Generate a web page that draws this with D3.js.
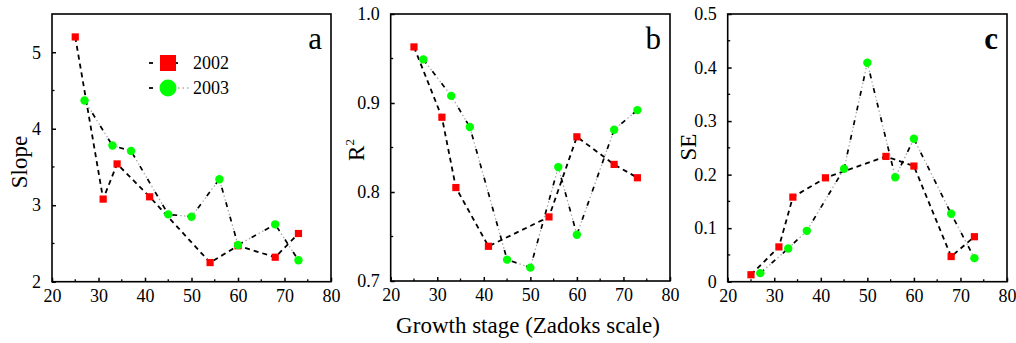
<!DOCTYPE html>
<html><head><meta charset="utf-8">
<script src="https://cdn.jsdelivr.net/npm/d3@7"></script>
<style>body{margin:0;background:#fff;} svg{display:block;} text{font-family:"Liberation Serif","Times New Roman",serif;fill:#000;}</style>
</head><body>
<script>
// Data
const x2002 = [25, 31, 34, 41, 54, 60, 68, 73];
const x2003 = [27, 33, 37, 45, 50, 56, 60, 68, 73];
const slope2002 = [5.20, 3.08, 3.54, 3.11, 2.25, 2.47, 2.32, 2.63];
const slope2003 = [4.37, 3.78, 3.71, 2.88, 2.85, 3.34, 2.48, 2.75, 2.28];
const r2_2002 = [0.963, 0.884, 0.805, 0.739, 0.772, 0.862, 0.831, 0.816];
const r2_2003 = [0.949, 0.908, 0.873, 0.724, 0.715, 0.828, 0.752, 0.870, 0.892];
const se2002 = [0.013, 0.065, 0.158, 0.194, 0.234, 0.216, 0.047, 0.084];
const se2003 = [0.016, 0.062, 0.095, 0.211, 0.409, 0.195, 0.267, 0.127, 0.044];
const xTicks = [20, 30, 40, 50, 60, 70, 80];
const slopeTicks = [2, 3, 4, 5];
const r2Ticks = [0.7, 0.8, 0.9, 1.0];
const seTicks = [0, 0.1, 0.2, 0.3, 0.4, 0.5];
const seriesNames = ["2002", "2003"];

const W = 1016, H = 343;
const svg = d3.select("body").append("svg").attr("width", W).attr("height", H);

const panels = [
  {left: 52, right: 331, top: 14, bottom: 281.7, y: [2, 5.5], ticks: slopeTicks, minor: 0.5, fmt: d => d3.format("d")(d),
   a: slope2002, b: slope2003, label: "a", bold: false, title: "Slope", tx: 27, ty: 162, legend: true},
  {left: 390.7, right: 670, top: 14, bottom: 281, y: [0.7, 1.0], ticks: r2Ticks, minor: 0.05, fmt: d => d3.format(".1f")(d),
   a: r2_2002, b: r2_2003, label: "b", bold: false, title: "R2", tx: 364, ty: 150, legend: false},
  {left: 727.7, right: 1007, top: 14, bottom: 281.7, y: [0, 0.5], ticks: seTicks, minor: 0.05, fmt: d => d === 0 ? "0" : d3.format(".1f")(d),
   a: se2002, b: se2003, label: "c", bold: true, title: "SE", tx: 696, ty: 147, legend: false}
];

panels.forEach(p => {
  const x = d3.scaleLinear().domain([20, 80]).range([p.left, p.right]);
  const y = d3.scaleLinear().domain(p.y).range([p.bottom, p.top]);
  const g = svg.append("g");

  // frame
  g.append("rect").attr("x", p.left).attr("y", p.top).attr("width", p.right - p.left).attr("height", p.bottom - p.top)
    .attr("fill", "none").attr("stroke", "#000").attr("stroke-width", 1.6);

  // x axis (inward ticks)
  const xa = g.append("g").attr("transform", `translate(0,${p.bottom})`)
    .call(d3.axisBottom(x).tickValues(xTicks).tickSizeInner(-4).tickSizeOuter(0).tickPadding(10).tickFormat(d3.format("d")));
  xa.select(".domain").remove();
  xa.selectAll("line").attr("stroke-width", 1.5);
  xa.selectAll("text").attr("font-size", 18).attr("font-family", "Liberation Serif").attr("dy", "0.55em");
  const xMinor = d3.range(25, 80, 10);
  g.selectAll(".xm").data(xMinor).enter().append("line")
    .attr("x1", d => x(d)).attr("x2", d => x(d)).attr("y1", p.bottom).attr("y2", p.bottom - 2.5)
    .attr("stroke", "#000").attr("stroke-width", 1.3);

  // y axis (inward ticks)
  const ya = g.append("g").attr("transform", `translate(${p.left},0)`)
    .call(d3.axisLeft(y).tickValues(p.ticks).tickSizeInner(-4).tickSizeOuter(0).tickPadding(11).tickFormat(p.fmt));
  ya.select(".domain").remove();
  ya.selectAll("line").attr("stroke-width", 1.5);
  ya.selectAll("text").attr("font-size", 18).attr("font-family", "Liberation Serif");
  const yMinor = d3.range(p.y[0] + p.minor, p.y[1], p.minor * 2);
  g.selectAll(".ym").data(yMinor).enter().append("line")
    .attr("x1", p.left).attr("x2", p.left + 2.5).attr("y1", d => y(d)).attr("y2", d => y(d))
    .attr("stroke", "#000").attr("stroke-width", 1.3);

  // y title
  const t = g.append("text").attr("transform", `translate(${p.tx},${p.ty}) rotate(-90)`)
    .attr("text-anchor", "middle").attr("font-size", 23);
  if (p.title === "R2") {
    t.append("tspan").text("R");
    t.append("tspan").attr("font-size", 13).attr("dy", "-0.8em").text("2");
  } else t.text(p.title);

  // panel letter
  g.append("text").attr("x", p.right - 9).attr("y", p.top + 35).attr("text-anchor", "end")
    .attr("font-size", 31).attr("font-weight", p.bold ? "bold" : "normal").text(p.label);

  const d2002 = x2002.map((xv, i) => [xv, p.a[i]]);
  const d2003 = x2003.map((xv, i) => [xv, p.b[i]]);
  const line = d3.line().x(d => x(d[0])).y(d => y(d[1]));

  // 2003 line: black dashes + grey dots
  g.append("path").attr("d", line(d2003)).attr("fill", "none").attr("stroke", "#000")
    .attr("stroke-width", 1.7).attr("stroke-dasharray", "5,10");
  g.append("path").attr("d", line(d2003)).attr("fill", "none").attr("stroke", "#aaa")
    .attr("stroke-width", 1.3).attr("stroke-dasharray", "0,8,1.5,2.5,1.5,1.5");
  // 2002 line: dashed
  g.append("path").attr("d", line(d2002)).attr("fill", "none").attr("stroke", "#000")
    .attr("stroke-width", 1.8).attr("stroke-dasharray", "5,4");

  // markers
  g.selectAll(".sq").data(d2002).enter().append("rect")
    .attr("x", d => x(d[0]) - 3.6).attr("y", d => y(d[1]) - 3.6).attr("width", 7.2).attr("height", 7.2)
    .attr("fill", "#ff0000");
  g.selectAll(".ci").data(d2003).enter().append("circle")
    .attr("cx", d => x(d[0])).attr("cy", d => y(d[1])).attr("r", 4.2).attr("fill", "#00ff00");

  if (p.legend) {
    const lg = g.append("g");
    [0, 1].forEach(i => {
      const cy = 63 + i * 25;
      lg.append("line").attr("x1", 149).attr("x2", 153).attr("y1", cy).attr("y2", cy).attr("stroke", "#000").attr("stroke-width", 1.8);
      if (i === 0) {
        lg.append("line").attr("x1", 174).attr("x2", 178).attr("y1", cy).attr("y2", cy).attr("stroke", "#000").attr("stroke-width", 1.8);
        lg.append("rect").attr("x", 160).attr("y", cy - 8).attr("width", 16).attr("height", 16).attr("fill", "#ff0000");
      } else {
        lg.append("line").attr("x1", 178).attr("x2", 189).attr("y1", cy).attr("y2", cy).attr("stroke", "#aaa").attr("stroke-width", 1.3).attr("stroke-dasharray", "1.5,3");
        lg.append("circle").attr("cx", 168).attr("cy", cy).attr("r", 8.5).attr("fill", "#00ff00");
      }
      lg.append("text").attr("x", 193).attr("y", cy + 6).attr("font-size", 18).text(seriesNames[i]);
    });
  }
});

svg.append("text").attr("x", 528).attr("y", 333).attr("text-anchor", "middle").attr("font-size", 23)
  .text("Growth stage (Zadoks scale)");
</script>
</body></html>
